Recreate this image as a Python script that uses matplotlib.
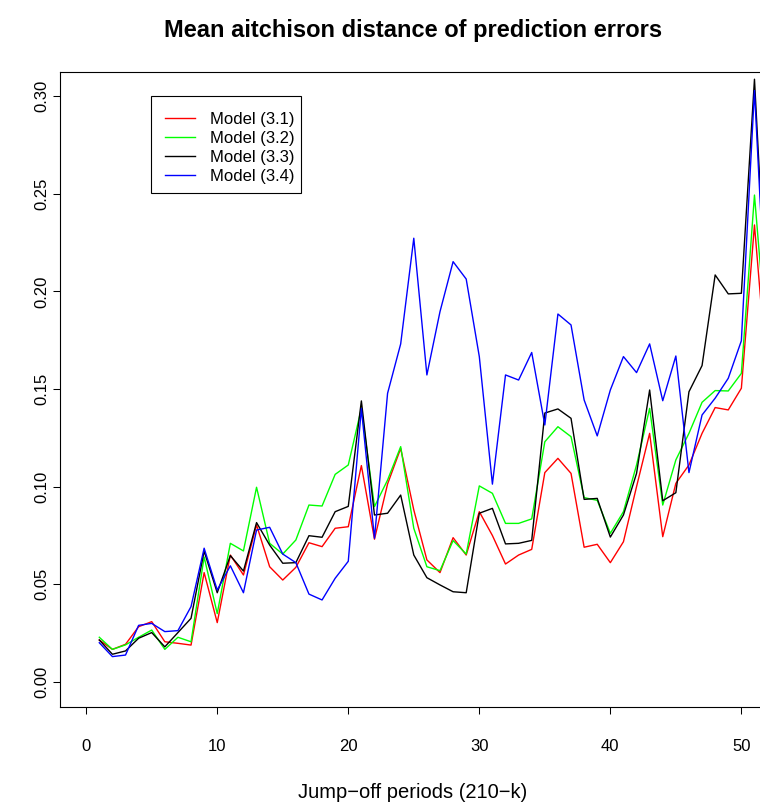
import matplotlib
matplotlib.use("Agg")
import matplotlib.pyplot as plt
from matplotlib.patches import Rectangle
import numpy as np

plt.rcParams['font.family'] = ['Liberation Sans', 'DejaVu Sans']

periods = list(range(1, 53))

model_31 = [0.0215, 0.0167, 0.0193, 0.0283, 0.0309, 0.0206, 0.0198, 0.0189, 0.0560, 0.0304,
            0.0650, 0.0548, 0.0804, 0.0590, 0.0522, 0.0587, 0.0713, 0.0693, 0.0787, 0.0795,
            0.1108, 0.0731, 0.1014, 0.1196, 0.0881, 0.0625, 0.0560, 0.0739, 0.0650, 0.0872,
            0.0750, 0.0604, 0.0650, 0.0679, 0.1072, 0.1145, 0.1068, 0.0690, 0.0705, 0.0611,
            0.0718, 0.1000, 0.1273, 0.0744, 0.1017, 0.1111, 0.1273, 0.1405, 0.1393, 0.1504,
            0.2340, 0.1530]
model_32 = [0.0229, 0.0167, 0.0190, 0.0229, 0.0266, 0.0167, 0.0229, 0.0206, 0.0640, 0.0350,
            0.0710, 0.0671, 0.0997, 0.0710, 0.0655, 0.0727, 0.0906, 0.0901, 0.1063, 0.1111,
            0.1401, 0.0898, 0.1034, 0.1205, 0.0787, 0.0590, 0.0570, 0.0724, 0.0655, 0.1004,
            0.0966, 0.0812, 0.0812, 0.0835, 0.1230, 0.1307, 0.1256, 0.0944, 0.0930, 0.0761,
            0.0872, 0.1111, 0.1401, 0.0906, 0.1137, 0.1273, 0.1432, 0.1492, 0.1490, 0.1580,
            0.2493, 0.1680]
model_33 = [0.0215, 0.0142, 0.0159, 0.0224, 0.0253, 0.0180, 0.0253, 0.0326, 0.0670, 0.0457,
            0.0647, 0.0568, 0.0816, 0.0701, 0.0608, 0.0611, 0.0749, 0.0741, 0.0872, 0.0899,
            0.1439, 0.0855, 0.0864, 0.0957, 0.0650, 0.0534, 0.0497, 0.0462, 0.0457, 0.0864,
            0.0889, 0.0707, 0.0710, 0.0725, 0.1377, 0.1398, 0.1350, 0.0935, 0.0940, 0.0742,
            0.0855, 0.1068, 0.1495, 0.0928, 0.0969, 0.1486, 0.1620, 0.2084, 0.1987, 0.1990,
            0.3086, 0.1800]
model_34 = [0.0201, 0.0130, 0.0138, 0.0290, 0.0300, 0.0258, 0.0263, 0.0386, 0.0685, 0.0471,
            0.0595, 0.0457, 0.0778, 0.0792, 0.0655, 0.0611, 0.0450, 0.0420, 0.0531, 0.0618,
            0.1400, 0.0736, 0.1478, 0.1731, 0.2272, 0.1572, 0.1896, 0.2152, 0.2063, 0.1666,
            0.1013, 0.1572, 0.1546, 0.1687, 0.1316, 0.1884, 0.1828, 0.1444, 0.1260, 0.1495,
            0.1666, 0.1584, 0.1731, 0.1440, 0.1669, 0.1072, 0.1367, 0.1453, 0.1555, 0.1747,
            0.3028, 0.1720]

series_labels = ["Model (3.1)", "Model (3.2)", "Model (3.3)", "Model (3.4)"]
series_colors = ["#FF0000", "#00FF00", "#000000", "#0000FF"]
x_ticks = [0, 10, 20, 30, 40, 50]
y_ticks = [0.00, 0.05, 0.10, 0.15, 0.20, 0.25, 0.30]

W, H = 760, 807
fig = plt.figure(figsize=(W / 100, H / 100), dpi=100)
ax = fig.add_axes([60 / W, (H - 707) / H, (766 - 60) / W, (707 - 72) / H])

for vals, lab, col in zip([model_31, model_32, model_33, model_34], series_labels, series_colors):
    ax.plot(periods, vals, color=col, lw=1.0, label=lab)

ax.set_xlim(-2.0, 51.88)
ax.set_ylim(-0.0128, 0.3123)
ax.set_xticks(x_ticks)
ax.set_xticklabels([str(t) for t in x_ticks])
ax.set_yticks(y_ticks)
ax.set_yticklabels([f"{t:.2f}" for t in y_ticks], rotation=90, va='center')
ax.tick_params(axis='both', direction='out', length=5, width=0.75, labelsize=12, color='black')
ax.tick_params(axis='x', pad=18)
ax.tick_params(axis='y', pad=3)
for s in ax.spines.values():
    s.set_linewidth(0.8)
    s.set_color('black')

box = Rectangle((151 / W, 1 - 193 / H), 150 / W, 97 / H, transform=fig.transFigure,
                facecolor='white', edgecolor='black', lw=0.8, zorder=3)
ax.add_patch(box)
leg = ax.legend(loc='upper left', bbox_to_anchor=(165 / W, 1 - 112 / H), bbox_transform=fig.transFigure,
                fontsize=12, frameon=False, handlelength=1.8, handletextpad=0.9,
                borderpad=0, labelspacing=0.23, borderaxespad=0)
leg.set_zorder(6)

fig.text(413 / W, 1 - 30 / H, "Mean aitchison distance of prediction errors", ha='center', va='center',
         fontsize=17, fontweight='bold')
fig.text(413 / W, 1 - 793 / H, "Jump\u2212off periods (210\u2212k)", ha='center', va='center', fontsize=14.5)

fig.savefig("out.png", dpi=100)
